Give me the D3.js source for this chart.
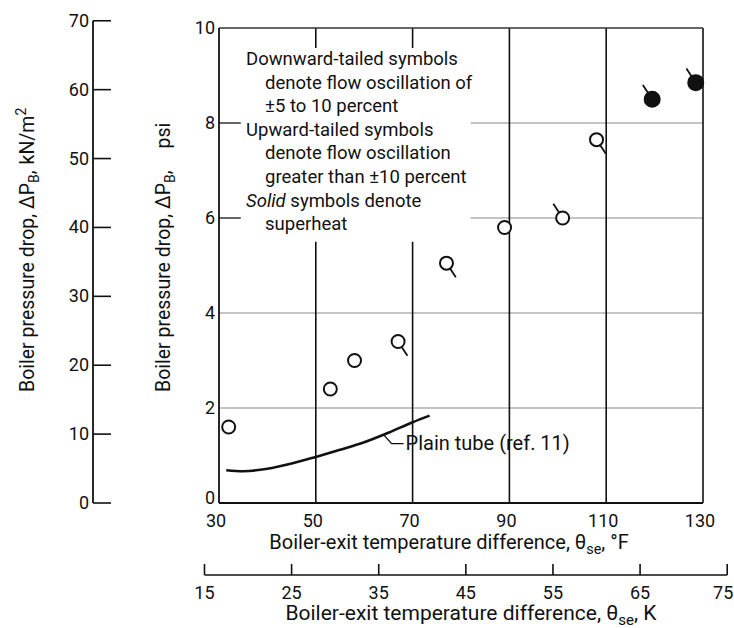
<!DOCTYPE html>
<html>
<head>
<meta charset="utf-8">
<script src="https://cdn.jsdelivr.net/npm/d3@7/dist/d3.min.js"></script>
<style>
  html, body { margin: 0; padding: 0; background: #fff; }
  svg text { font-family: Roboto, "DejaVu Sans", sans-serif; fill: #111; }
</style>
</head>
<body>
<svg id="chart" width="734" height="628"></svg>
<script>
// ---- data ----
const tempF    = [32, 53, 58, 67, 77, 89, 101, 108, 119.5, 128.5];
const dropPsi  = [1.6, 2.4, 3.0, 3.4, 5.05, 5.8, 6.0, 7.65, 8.5, 8.85];
const tailDir  = ["none", "none", "none", "down", "down", "none", "up", "down", "up", "up"];
const isSolid  = [false, false, false, false, false, false, false, false, true, true];

const plainT   = [31.5, 35, 40, 45, 50, 55, 60, 65, 70, 73.5];
const plainP   = [0.69, 0.67, 0.72, 0.83, 0.97, 1.12, 1.28, 1.48, 1.70, 1.84];

const xTicksF  = [30, 50, 70, 90, 110, 130];
const xTicksK  = [15, 25, 35, 45, 55, 65, 75];
const yTicksPsi = [0, 2, 4, 6, 8, 10];
const yTicksKN  = [0, 10, 20, 30, 40, 50, 60, 70];

const legendLines = [
  {t: "Downward-tailed symbols", indent: false},
  {t: "denote flow oscillation of", indent: true},
  {t: "\u00B15 to 10 percent", indent: true},
  {t: "Upward-tailed symbols", indent: false},
  {t: "denote flow oscillation", indent: true},
  {t: "greater than \u00B110 percent", indent: true},
  {t: "Solid symbols denote", indent: false, italicFirst: "Solid"},
  {t: "superheat", indent: true}
];

// ---- scales ----
const svg = d3.select("#chart");
const x = d3.scaleLinear().domain([30, 130]).range([219, 703]);
const y = d3.scaleLinear().domain([0, 10]).range([503, 28]);
const PSI_PER_KN = 1 / 6.895;
const yKN = d3.scaleLinear().domain([0, 70]).range([y(0), y(70 * PSI_PER_KN)]);
const xK = d3.scaleLinear().domain([15, 75]).range([x(15 * 1.8), x(75 * 1.8)]);

const ink = "#111";
const grid = "#8a8a8a";

// ---- grid lines ----
const g = svg.append("g");
[2, 4].forEach(v => {
  g.append("line").attr("x1", x(30)).attr("x2", x(130)).attr("y1", y(v)).attr("y2", y(v))
    .attr("stroke", grid).attr("stroke-width", 1.2);
});
[6, 8].forEach(v => {
  g.append("line").attr("x1", x(82)).attr("x2", x(130)).attr("y1", y(v)).attr("y2", y(v))
    .attr("stroke", grid).attr("stroke-width", 1.2);
  g.append("line").attr("x1", x(30)).attr("x2", x(34.5)).attr("y1", y(v)).attr("y2", y(v))
    .attr("stroke", ink).attr("stroke-width", 1.3);
});
[50, 70].forEach(v => {
  g.append("line").attr("x1", x(v)).attr("x2", x(v)).attr("y1", y(10)).attr("y2", y(9.58))
    .attr("stroke", ink).attr("stroke-width", 1.6);
  g.append("line").attr("x1", x(v)).attr("x2", x(v)).attr("y1", y(5.5)).attr("y2", y(0))
    .attr("stroke", ink).attr("stroke-width", 1.6);
});
[90, 110, 130].forEach(v => {
  g.append("line").attr("x1", x(v)).attr("x2", x(v)).attr("y1", y(10)).attr("y2", y(0))
    .attr("stroke", ink).attr("stroke-width", 1.6);
});
g.append("line").attr("x1", x(30)).attr("x2", x(130)).attr("y1", y(10)).attr("y2", y(10))
  .attr("stroke", "#333").attr("stroke-width", 1.4);
g.append("line").attr("x1", x(30)).attr("x2", x(30)).attr("y1", y(10)).attr("y2", y(0))
  .attr("stroke", ink).attr("stroke-width", 1.8);
g.append("line").attr("x1", x(30)).attr("x2", x(130)).attr("y1", y(0)).attr("y2", y(0))
  .attr("stroke", ink).attr("stroke-width", 1.8);

// ---- psi tick labels ----
svg.append("g").selectAll("text").data(yTicksPsi).join("text")
  .attr("x", x(30) - 4).attr("y", d => y(d) + (d === 0 ? 1 : 6))
  .attr("text-anchor", "end").attr("font-size", 18).text(d => d);

// ---- kN/m2 axis (left) ----
const kAxisX = 93;
const ka = svg.append("g");
ka.append("line").attr("x1", kAxisX).attr("x2", kAxisX).attr("y1", yKN(0)).attr("y2", yKN(70))
  .attr("stroke", ink).attr("stroke-width", 1.8);
ka.selectAll("line.t").data(yTicksKN).join("line").attr("class", "t")
  .attr("x1", kAxisX).attr("x2", kAxisX + 18).attr("y1", d => yKN(d)).attr("y2", d => yKN(d))
  .attr("stroke", ink).attr("stroke-width", 1.6);
ka.selectAll("text").data(yTicksKN).join("text")
  .attr("x", kAxisX - 4).attr("y", d => yKN(d) + 6)
  .attr("text-anchor", "end").attr("font-size", 18).text(d => d);

// ---- axis titles (left) ----
function yTitle(bx, startY, unit, sup, gap) {
  const t = svg.append("text").attr("transform", `translate(${bx},${startY}) rotate(-90)`)
    .attr("text-anchor", "start").attr("font-size", 19.5);
  t.append("tspan").text("Boiler pressure drop,  \u0394P");
  t.append("tspan").attr("dy", 5).attr("font-size", 14).text("B");
  t.append("tspan").attr("dy", -5).text(",");
  t.append("tspan").attr("dx", gap).text(unit);
  if (sup) t.append("tspan").attr("dy", -8).attr("font-size", 14).text(sup);
}
yTitle(34, 392, "kN/m", "2", 6);
yTitle(170, 392, "psi", null, 22);

// ---- F axis labels ----
svg.append("g").selectAll("text").data(xTicksF).join("text")
  .attr("x", d => x(d) - 3).attr("y", 527)
  .attr("text-anchor", "middle").attr("font-size", 18).text(d => d);

function xTitle(cx, by, unit, size) {
  const t = svg.append("text").attr("x", cx).attr("y", by).attr("text-anchor", "middle").attr("font-size", size);
  t.append("tspan").text("Boiler-exit temperature difference,  \u03B8");
  t.append("tspan").attr("dy", 5).attr("font-size", size * 0.72).text("se");
  t.append("tspan").attr("dy", -5).text(",  " + unit);
}
xTitle(449, 549, "\u00B0F", 20);

// ---- K axis ----
const kY = 575;
const kg = svg.append("g");
kg.append("line").attr("x1", xK(15)).attr("x2", xK(75)).attr("y1", kY).attr("y2", kY)
  .attr("stroke", ink).attr("stroke-width", 1.5);
kg.selectAll("line.t").data(xTicksK).join("line").attr("class", "t")
  .attr("x1", d => xK(d)).attr("x2", d => xK(d)).attr("y1", kY).attr("y2", kY - 11)
  .attr("stroke", ink).attr("stroke-width", 1.6);
kg.selectAll("text").data(xTicksK).join("text")
  .attr("x", d => xK(d) - (d === 75 ? 4 : 0)).attr("y", 599)
  .attr("text-anchor", "middle").attr("font-size", 18).text(d => d);
xTitle(471, 620, "K", 21);

// ---- plain tube curve ----
const line = d3.line().x(d => x(d[0])).y(d => y(d[1])).curve(d3.curveMonotoneX);
svg.append("path").datum(plainT.map((t, i) => [t, plainP[i]]))
  .attr("d", line).attr("fill", "none").attr("stroke", ink).attr("stroke-width", 2.6);
const lx = x(64), ly = y(1.44);
svg.append("path").attr("d", `M${lx},${ly} l8,9 h12`).attr("fill", "none").attr("stroke", ink).attr("stroke-width", 1.4);
svg.append("text").attr("x", lx + 22).attr("y", ly + 15).attr("font-size", 20).text("Plain tube (ref. 11)");

// ---- data points ----
const pts = tempF.map((t, i) => ({t, p: dropPsi[i], tail: tailDir[i], solid: isSolid[i]}));
const r = 6.5, tailLen = 17;
const ux = 0.55, uy = 0.835;
const pg = svg.append("g");
pg.selectAll("line.tail").data(pts.filter(d => d.tail !== "none")).join("line").attr("class", "tail")
  .attr("x1", d => x(d.t) + (d.tail === "down" ? 1 : -1) * ux * r)
  .attr("y1", d => y(d.p) + (d.tail === "down" ? 1 : -1) * uy * r)
  .attr("x2", d => x(d.t) + (d.tail === "down" ? 1 : -1) * ux * tailLen)
  .attr("y2", d => y(d.p) + (d.tail === "down" ? 1 : -1) * uy * tailLen)
  .attr("stroke", ink).attr("stroke-width", 1.8);
pg.selectAll("circle").data(pts).join("circle")
  .attr("cx", d => x(d.t)).attr("cy", d => y(d.p)).attr("r", d => d.solid ? 7.5 : r)
  .attr("fill", d => d.solid ? ink : "#fff").attr("stroke", ink).attr("stroke-width", 2);

// ---- legend text ----
const lg = svg.append("g");
legendLines.forEach((L, i) => {
  const t = lg.append("text").attr("x", L.indent ? 265 : 246).attr("y", 65 + i * 23.6).attr("font-size", 18.5);
  if (L.italicFirst) {
    t.append("tspan").attr("font-style", "italic").text(L.italicFirst);
    t.append("tspan").text(L.t.slice(L.italicFirst.length));
  } else {
    t.text(L.t);
  }
});
</script>
</body>
</html>
